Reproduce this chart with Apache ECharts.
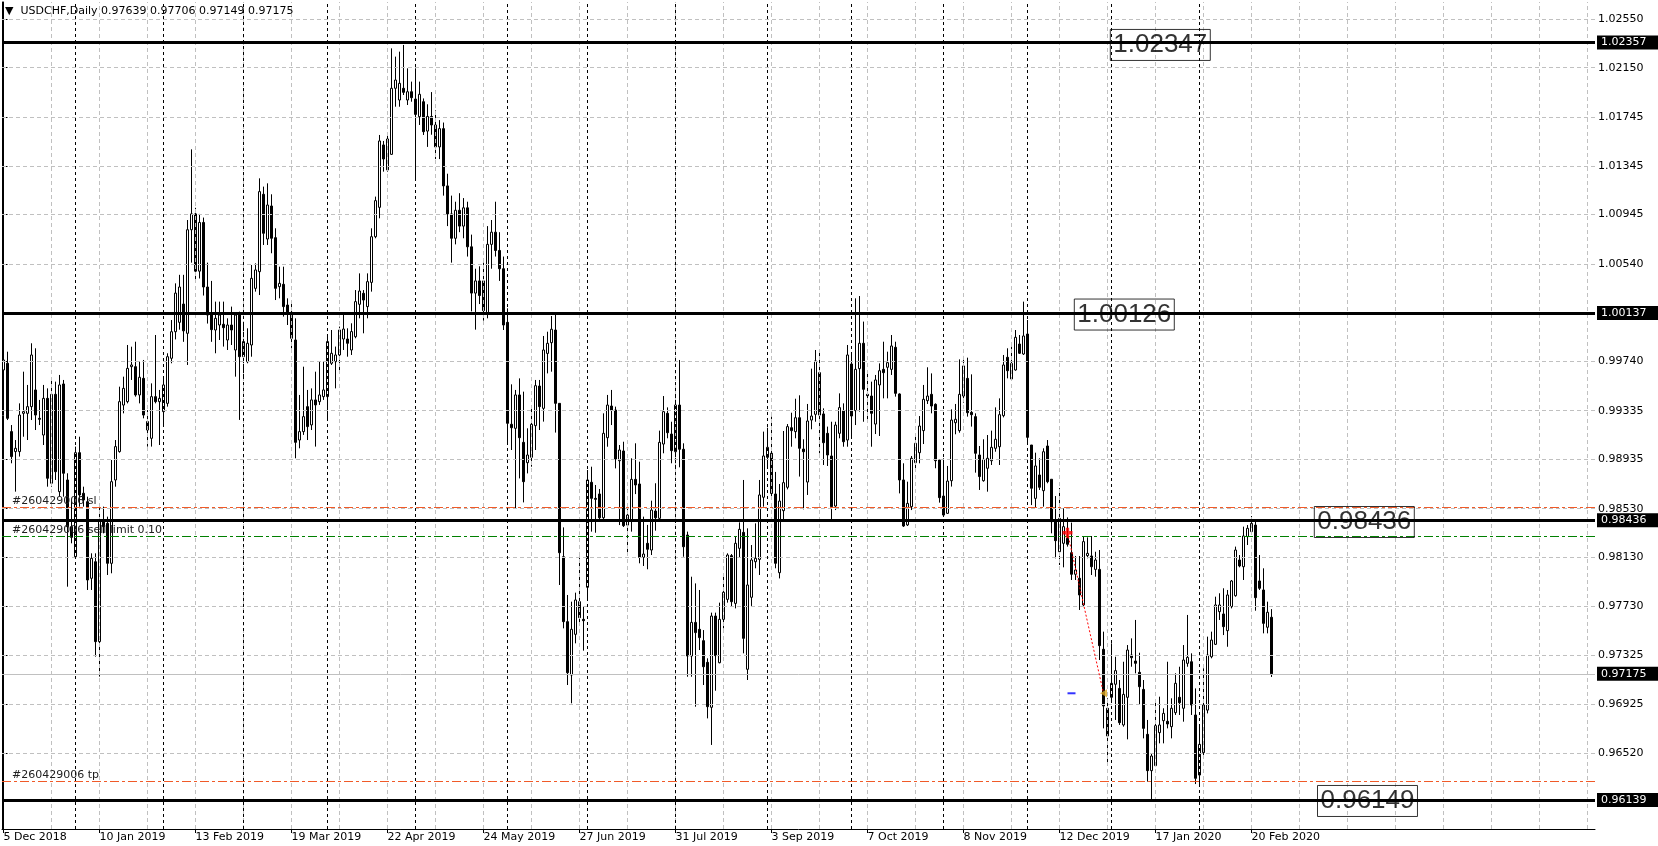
<!DOCTYPE html>
<html><head><meta charset="utf-8">
<script src="https://cdn.jsdelivr.net/npm/echarts@6/dist/echarts.min.js"></script>
<style>html,body{margin:0;padding:0;background:#fff}#c{width:1658px;height:846px}</style>
</head><body><div id="c"></div><script>
const symbolName = 'USDCHF,Daily';
const dateTicks = ['5 Dec 2018','10 Jan 2019','13 Feb 2019','19 Mar 2019','22 Apr 2019','24 May 2019','27 Jun 2019','31 Jul 2019','3 Sep 2019','7 Oct 2019','8 Nov 2019','12 Dec 2019','17 Jan 2020','20 Feb 2020'];
const barsPerDateTick = 24;
const priceTicks = [1.02550,1.02150,1.01745,1.01345,1.00945,1.00540,0.99740,0.99335,0.98935,0.98530,0.98130,0.97730,0.97325,0.96925,0.96520];
const monthStartBars = [18,40,60,81,103,126,146,168,191,212,235,256,277,299];
const levelPrices = [1.02357,1.00137,0.98436,0.96139];
const levelTexts = ['1.02347','1.00126','0.98436','0.96149'];
const bidPrice = 0.97175;
const orderLabels = ['#260429006 sl','#260429006 sell limit 0.10','#260429006 tp'];
const orderPrices = [0.98540,0.98303,0.96290];
const tradeBars = [266,275];
const tradePrices = [0.98333,0.97015];

const open = [
0.99669,0.99724,0.99163,0.98999,0.98999,0.99313,0.99313,0.99368,0.99505,0.99272,
0.99135,0.99436,0.98739,0.99469,0.98670,0.99554,0.98766,0.98383,0.98136,0.98990,
0.98657,0.98588,0.97959,0.98095,0.97439,0.98438,0.98410,0.98082,0.98766,0.98999,
0.99381,0.99409,0.99696,0.99696,0.99464,0.99600,0.99245,0.99108,0.99450,0.99409,
0.99327,0.99395,0.99765,0.99983,1.00060,1.00210,0.99970,1.00820,1.00950,1.00480,
1.00880,1.00350,1.00120,0.99997,1.00038,1.00044,0.99915,1.00038,0.99833,1.00120,
0.99778,0.99737,0.99874,1.00339,1.00476,1.01111,1.00744,1.01015,1.00755,1.00353,
1.00372,1.00202,1.00142,0.99915,0.99094,0.99163,0.99368,0.99218,0.99423,0.99409,
0.99450,0.99450,0.99724,0.99737,0.99792,0.99923,0.99923,0.99833,0.99942,1.00208,
1.00298,1.00189,1.00388,1.00763,1.01004,1.01516,1.01311,1.01439,1.01981,1.01885,
1.01981,1.01885,1.01953,1.01893,1.01748,1.01871,1.01630,1.01750,1.01680,1.01500,
1.01650,1.01180,1.00950,1.00750,1.00980,1.00850,1.01000,1.00680,1.00300,1.00400,
1.00400,1.00134,1.00700,1.00800,1.00650,1.00500,1.00060,0.99223,0.99190,0.99464,
0.99075,0.98908,0.98952,0.99212,0.99537,0.99354,0.99805,0.99893,0.99997,0.99395,
0.98136,0.97603,0.97165,0.97499,0.97767,0.97622,0.97885,0.98747,0.98615,0.98651,
0.98456,0.99113,0.99373,0.99340,0.98924,0.99004,0.98396,0.98437,0.98771,0.98733,
0.98131,0.98246,0.98191,0.98511,0.98451,0.99061,0.99313,0.99143,0.98998,0.99381,
0.99018,0.98314,0.97321,0.97597,0.97540,0.97447,0.97269,0.96900,0.97649,0.97266,
0.97622,0.97786,0.98145,0.97753,0.98205,0.98336,0.97212,0.97803,0.98095,0.98114,
0.98624,0.98952,0.98985,0.98651,0.98005,0.98514,0.98706,0.99195,0.99163,0.99277,
0.99020,0.98749,0.99258,0.99305,0.99647,0.99308,0.99149,0.98963,0.98552,0.99149,
0.99333,0.99094,0.99718,0.99335,0.99680,0.99888,0.99469,0.99455,0.99225,0.99546,
0.99674,0.99691,0.99674,0.99855,0.99472,0.98766,0.98397,0.98547,0.98908,0.98990,
0.99171,0.99417,0.99469,0.99387,0.98930,0.98634,0.98492,0.98760,0.99236,0.99171,
0.99455,0.99600,0.99321,0.99286,0.98971,0.98760,0.98862,0.98924,0.99026,0.99039,
0.99294,0.99773,0.99595,0.99669,0.99882,0.99800,0.99964,0.99053,0.98615,0.98807,
0.98678,0.99045,0.98772,0.98424,0.98177,0.98246,0.98287,0.98169,0.97992,0.97959,
0.97740,0.98145,0.98142,0.98032,0.98032,0.97376,0.96892,0.96982,0.97089,0.97055,
0.96755,0.96982,0.97329,0.97280,0.97187,0.97047,0.96678,0.96380,0.96421,0.96692,
0.96790,0.96785,0.96741,0.96856,0.96982,0.96892,0.97261,0.97274,0.96837,0.96344,
0.96528,0.96877,0.97315,0.97417,0.97685,0.97666,0.97529,0.97726,0.97816,0.98109,
0.98054,0.98301,0.98342,0.98396,0.97937,0.97863,0.97557,0.97639];
const high = [
1.00079,0.99819,0.99217,0.99094,0.99395,0.99655,0.99546,0.99888,0.99847,0.99423,
0.99546,0.99518,0.99587,0.99573,0.99628,0.99587,0.98821,0.98602,0.99040,0.99121,
0.98711,0.98629,0.98164,0.98164,0.98547,0.98547,0.98465,0.98930,0.99094,0.99532,
0.99614,0.99874,0.99860,0.99901,0.99737,0.99751,0.99340,0.99559,0.99956,0.99505,
0.99614,0.99806,1.00079,1.00380,1.00450,1.00450,1.00900,1.01480,1.01000,1.00950,
1.00920,1.00550,1.00400,1.00230,1.00230,1.00230,1.00093,1.00189,1.00134,1.00148,
1.00038,1.00011,1.00531,1.00544,1.01242,1.01174,1.01201,1.01111,1.00832,1.00517,
1.00517,1.00257,1.00230,1.00093,0.99464,0.99696,0.99505,0.99518,0.99655,0.99737,
0.99737,0.99942,0.99997,0.99861,1.00025,1.00120,1.00011,1.00052,1.00325,1.00462,
1.00325,1.00462,1.00832,1.01092,1.01598,1.01549,1.01598,1.02309,1.02241,1.02282,
1.02337,1.02145,1.02036,1.02145,1.02036,1.01898,1.01850,1.01950,1.01800,1.01720,
1.01700,1.01280,1.01100,1.01050,1.01120,1.01080,1.01050,1.00780,1.00500,1.00520,
1.00550,1.00850,1.00900,1.01050,1.00800,1.00600,1.00175,0.99551,0.99505,0.99600,
0.99491,0.99190,0.99354,0.99587,0.99587,0.99948,0.99983,1.00112,1.00142,0.99395,
0.98377,0.97822,0.97767,0.97841,0.98136,0.97726,0.98848,0.98875,0.98725,0.98692,
0.99313,0.99464,0.99505,0.99368,0.99053,0.99080,0.98547,0.98944,0.99067,0.98916,
0.98465,0.98397,0.98596,0.98739,0.99171,0.99455,0.99362,0.99244,0.99491,0.99751,
0.99067,0.98342,0.97972,0.97917,0.97863,0.97534,0.97302,0.97677,0.97677,0.97759,
0.98000,0.98164,0.98158,0.98301,0.98418,0.98766,0.98369,0.98232,0.98410,0.98766,
0.99163,0.99195,0.99286,0.98832,0.98733,0.99168,0.99225,0.99318,0.99433,0.99461,
0.99100,0.99390,0.99680,0.99833,0.99833,0.99354,0.99204,0.99244,0.99244,0.99477,
0.99395,0.99874,0.99792,1.00257,1.00276,1.00066,0.99647,0.99573,0.99628,0.99723,
0.99901,0.99819,0.99956,0.99901,0.99477,0.98903,0.98752,0.98963,0.99149,0.99291,
0.99546,0.99691,0.99641,0.99395,0.98930,0.98944,0.98881,0.99346,0.99390,0.99756,
0.99784,0.99770,0.99633,0.99313,0.99045,0.99100,0.99135,0.99171,0.99362,0.99436,
0.99792,0.99847,0.99860,0.99997,0.99956,1.00230,1.00079,0.99053,0.98990,0.98944,
0.99026,0.99094,0.98772,0.98634,0.98700,0.98533,0.98459,0.98416,0.98142,0.98142,
0.98306,0.98295,0.98306,0.98177,0.98191,0.97521,0.96974,0.97425,0.97315,0.97124,
0.97274,0.97411,0.97466,0.97617,0.97348,0.97124,0.96796,0.96522,0.96965,0.96987,
0.96892,0.97274,0.96974,0.97179,0.97233,0.97411,0.97658,0.97343,0.97055,0.96755,
0.97220,0.97480,0.97521,0.97808,0.97836,0.97877,0.97863,0.97945,0.98219,0.98150,
0.98383,0.98396,0.98470,0.98424,0.98150,0.98041,0.97767,0.97706];
const low = [
0.99655,0.99258,0.98903,0.98670,0.98958,0.99121,0.99094,0.99258,0.99176,0.99217,
0.99053,0.98711,0.98711,0.98766,0.98629,0.98629,0.97890,0.98246,0.98123,0.98547,
0.98547,0.97863,0.97863,0.97316,0.97152,0.98328,0.97986,0.98000,0.98711,0.98990,
0.99313,0.99395,0.99587,0.99450,0.99395,0.99272,0.99040,0.99040,0.99395,0.99053,
0.99217,0.99368,0.99724,0.99920,1.00000,0.99900,0.99710,1.00550,1.00400,1.00420,
1.00280,1.00050,0.99900,0.99806,0.99915,0.99861,0.99833,0.99874,0.99614,0.99259,
0.99614,0.99724,0.99778,1.00312,1.00284,1.00695,1.00695,1.00627,1.00243,1.00257,
1.00107,1.00038,0.99847,0.98944,0.99026,0.99136,0.99094,0.99176,0.99040,0.99382,
0.99423,0.99272,0.99710,0.99518,0.99641,0.99833,0.99778,0.99792,0.99929,1.00093,
0.99970,1.00093,1.00312,1.00750,1.00914,1.01297,1.01297,1.01434,1.01830,1.01830,
1.01926,1.01844,1.01871,1.01242,1.01680,1.01598,1.01500,1.01600,1.01400,1.01400,
1.01100,1.00850,1.00550,1.00700,1.00800,1.00750,1.00600,1.00150,1.00000,1.00210,
1.00074,1.00093,1.00500,1.00600,1.00400,0.99997,0.99067,0.99012,0.98533,0.98779,
0.98582,0.98820,0.98875,0.99012,0.99176,0.99245,0.99641,0.99655,0.99155,0.97904,
0.97548,0.97083,0.96933,0.97425,0.97576,0.97365,0.97781,0.98342,0.98333,0.98437,
0.98437,0.99039,0.99217,0.98861,0.98396,0.98380,0.98164,0.98342,0.98650,0.98082,
0.98060,0.98033,0.98150,0.98350,0.98432,0.98985,0.99108,0.98903,0.98822,0.98870,
0.98136,0.97151,0.97151,0.96905,0.97370,0.97083,0.96809,0.96591,0.97036,0.97261,
0.97548,0.97759,0.97726,0.97712,0.98131,0.97343,0.97124,0.97732,0.98041,0.97986,
0.98547,0.98875,0.98615,0.98041,0.97958,0.98424,0.98689,0.99039,0.99108,0.98794,
0.98525,0.98643,0.99182,0.99244,0.98985,0.98889,0.98881,0.98437,0.98519,0.99108,
0.99039,0.99039,0.99108,0.99217,0.99327,0.99244,0.99258,0.99039,0.99143,0.99127,
0.99436,0.99436,0.99628,0.99450,0.98656,0.98380,0.98388,0.98519,0.98842,0.98903,
0.99061,0.99390,0.99313,0.98862,0.98580,0.98470,0.98487,0.98712,0.99141,0.99154,
0.99401,0.99286,0.99204,0.98826,0.98684,0.98752,0.98670,0.98889,0.98998,0.98889,
0.99280,0.99600,0.99592,0.99663,0.99800,0.99792,0.99067,0.98560,0.98541,0.98684,
0.98547,0.98739,0.98328,0.98123,0.98068,0.98049,0.98219,0.97945,0.97945,0.97699,
0.97726,0.98123,0.97986,0.97972,0.97288,0.96727,0.96445,0.96946,0.96796,0.96755,
0.96741,0.96637,0.97233,0.97179,0.96927,0.96645,0.96290,0.96125,0.96418,0.96604,
0.96604,0.96727,0.96645,0.96837,0.96837,0.96782,0.97233,0.96837,0.96270,0.96270,
0.96495,0.96850,0.97302,0.97411,0.97617,0.97493,0.97397,0.97712,0.97808,0.98049,
0.97945,0.98232,0.98328,0.97693,0.97863,0.97507,0.97507,0.97149];
const close = [
0.99751,0.99272,0.98958,0.99026,0.99299,0.99327,0.99368,0.99792,0.99299,0.99264,
0.99436,0.98780,0.99469,0.98834,0.99546,0.98821,0.98383,0.98295,0.98990,0.98643,
0.98602,0.97945,0.98123,0.97439,0.98438,0.98383,0.98082,0.98752,0.99040,0.99409,
0.99518,0.99682,0.99710,0.99464,0.99609,0.99299,0.99176,0.99450,0.99409,0.99436,
0.99546,0.99778,0.99983,1.00300,1.00350,0.99990,1.00820,1.00950,1.00480,1.00880,
1.00350,1.00120,1.00000,1.00093,1.00120,1.00016,1.00038,0.99997,1.00120,0.99778,
0.99902,0.99888,1.00421,1.00490,1.01133,1.00791,1.01023,1.00750,1.00339,1.00380,
1.00189,1.00134,0.99929,0.99075,0.99163,0.99286,0.99204,0.99423,0.99382,0.99464,
0.99505,0.99902,0.99806,0.99792,0.99997,1.00005,0.99888,0.99984,1.00230,1.00317,
1.00243,1.00394,1.00763,1.01059,1.01549,1.01401,1.01565,1.01981,1.02049,1.02022,
1.01948,1.01953,1.01904,1.01767,1.01932,1.01625,1.01750,1.01680,1.01500,1.01650,
1.01180,1.00950,1.00750,1.00980,1.00850,1.01000,1.00680,1.00300,1.00400,1.00280,
1.00156,1.00700,1.00800,1.00650,1.00500,1.00038,0.99231,0.99195,0.99464,0.99113,
0.98752,0.98971,0.99223,0.99540,0.99368,0.99833,0.99888,1.00003,0.99395,0.98169,
0.97603,0.97184,0.97540,0.97781,0.97636,0.97611,0.98766,0.98615,0.98607,0.98456,
0.99149,0.99381,0.99340,0.98938,0.99012,0.98391,0.98478,0.98771,0.98725,0.98131,
0.98158,0.98197,0.98519,0.98456,0.99075,0.99327,0.99154,0.99007,0.99381,0.99018,
0.98218,0.97321,0.97597,0.97513,0.97472,0.97233,0.96905,0.97649,0.97324,0.97622,
0.97844,0.98150,0.97767,0.98246,0.98361,0.97466,0.97904,0.98109,0.98123,0.98643,
0.98963,0.99034,0.98656,0.98082,0.98593,0.98744,0.99204,0.99171,0.99277,0.99026,
0.98998,0.99250,0.99291,0.99743,0.99299,0.99072,0.98971,0.98547,0.99217,0.99360,
0.99080,0.99792,0.99291,0.99674,0.99888,0.99510,0.99458,0.99313,0.99587,0.99663,
0.99647,0.99729,0.99866,0.99477,0.98766,0.98388,0.98574,0.98944,0.99067,0.99209,
0.99428,0.99455,0.99373,0.98924,0.98621,0.98478,0.98757,0.99258,0.99264,0.99469,
0.99702,0.99318,0.99302,0.98985,0.98794,0.98935,0.98944,0.99034,0.99100,0.99302,
0.99710,0.99663,0.99723,0.99937,0.99806,0.99948,0.99116,0.98698,0.98881,0.98706,
0.98998,0.98752,0.98424,0.98268,0.98451,0.98383,0.98238,0.97992,0.98027,0.97822,
0.98260,0.98164,0.98054,0.98109,0.97406,0.96911,0.96665,0.97097,0.97201,0.96774,
0.97006,0.97370,0.97307,0.97261,0.97069,0.96727,0.96380,0.96500,0.96749,0.96755,
0.96850,0.96763,0.96892,0.97097,0.96938,0.97288,0.97310,0.96919,0.96317,0.96596,
0.96919,0.97329,0.97452,0.97740,0.97740,0.97562,0.97822,0.97937,0.98191,0.98060,
0.98306,0.98369,0.98410,0.97800,0.97877,0.97589,0.97680,0.97175];

// ---------- layout / styles ----------
const FONT = 'DejaVu Sans';
const X_MIN = -0.375, X_MAX = 397.875;
const Y_MIN = 0.95901, Y_MAX = 1.026895;
const levelTextAnchors = [[276.7,1.02337],[267.7,1.00124],[327.7,0.98421],[328.5,0.96131]];

const last = open.length - 1;
const fmt = v => v.toFixed(5);
const header = '\u25BC  ' + symbolName + ' ' + [open[last], high[last], low[last], close[last]].map(fmt).join(' ');

const candles = open.map((o, i) => [i, o, close[i], low[i], high[i]]);
const dateTickBars = dateTicks.map((_, k) => k * barsPerDateTick);

const gridLines = [];
for (let i = 12; i <= 396; i += 12) gridLines.push({ xAxis: i });
priceTicks.forEach(v => gridLines.push({ yAxis: v }));
const sepLines = monthStartBars.map(i => ({ xAxis: i }));

const levelLineData = levelPrices.map(v => ({ yAxis: v, label: { formatter: fmt(v) } }));
const bidLineData = [{ yAxis: bidPrice, label: { formatter: fmt(bidPrice) } }];

const axisLabelStyle = { show: true, position: 'end', distance: 2, backgroundColor: '#000', color: '#fff',
  fontFamily: FONT, fontSize: 11, padding: [2, 12, 1, 4], align: 'left' };

const orderColors = ['#f05a28', '#008000', '#f05a28'];
const orderLineData = orderPrices.map((v, k) => ({
  yAxis: v,
  lineStyle: { color: orderColors[k], type: [9, 3, 3, 3], width: 1 },
  label: { show: true, position: 'insideStartTop', formatter: orderLabels[k], distance: [10, 1],
    color: '#202020', fontFamily: FONT, fontSize: 11 }
}));

const ML = { silent: true, symbol: 'none', animation: false, precision: 6 };

const option = {
  animation: false,
  backgroundColor: '#fff',
  title: { text: header, left: 5, top: 6, padding: 0,
    textStyle: { fontSize: 11, fontWeight: 'normal', fontFamily: FONT, color: '#000' } },
  grid: { left: 2, right: 63, top: 2, bottom: 17, containLabel: false },
  xAxis: {
    type: 'value', min: X_MIN, max: X_MAX,
    axisLine: { show: true, lineStyle: { color: '#000', width: 1 } },
    axisTick: { show: true, customValues: dateTickBars, length: 4, lineStyle: { color: '#000' } },
    axisLabel: { show: true, customValues: dateTickBars, formatter: v => dateTicks[Math.round(v / barsPerDateTick)] || '',
      align: 'left', margin: 3, color: '#000', fontFamily: FONT, fontSize: 11 },
    splitLine: { show: false }
  },
  yAxis: [{
    type: 'value', position: 'right', min: Y_MIN, max: Y_MAX, scale: true,
    axisLine: { show: true, lineStyle: { color: '#000', width: 1 } },
    axisTick: { show: true, customValues: priceTicks, length: 4, lineStyle: { color: '#000' } },
    axisLabel: { show: true, customValues: priceTicks, formatter: v => fmt(v), align: 'left', margin: 3,
      color: '#000', fontFamily: FONT, fontSize: 11 },
    splitLine: { show: false }
  }, {
    type: 'value', position: 'left', min: Y_MIN, max: Y_MAX, scale: true,
    axisLine: { show: true, onZero: false, lineStyle: { color: '#000', width: 1 } },
    axisTick: { show: false }, axisLabel: { show: false }, splitLine: { show: false }
  }],
  series: [
    { type: 'scatter', data: [], z: 1, silent: true,
      markLine: Object.assign({}, ML, { label: { show: false },
        lineStyle: { color: '#c0c0c0', type: [4, 3], width: 1 }, data: gridLines }) },
    { type: 'scatter', data: [], z: 1, silent: true,
      markLine: Object.assign({}, ML, { label: { show: false },
        lineStyle: { color: '#000', type: [3, 3], width: 1 }, data: sepLines }) },
    { type: 'candlestick', data: candles, encode: { x: 0, y: [1, 2, 3, 4] }, barWidth: 2, z: 3, silent: true,
      itemStyle: { color: '#fff', color0: '#000', borderColor: '#000', borderColor0: '#000', borderWidth: 1 } },
    { type: 'scatter', data: [], z: 4, silent: true,
      markLine: Object.assign({}, ML, { data: orderLineData }) },
    { type: 'scatter', data: [], z: 4, silent: true,
      markLine: Object.assign({}, ML, {
        lineStyle: { color: '#c0c0c0', type: 'solid', width: 1 }, label: axisLabelStyle, data: bidLineData }) },
    { type: 'scatter', data: [], z: 5, silent: true,
      markLine: Object.assign({}, ML, {
        lineStyle: { color: '#000', type: 'solid', width: 3 }, label: axisLabelStyle, data: levelLineData }) },
    { type: 'scatter', z: 6, silent: true, symbolSize: 0,
      data: levelTextAnchors.map((a, k) => ({ value: a, name: levelTexts[k] })),
      label: { show: true, position: 'right', distance: 0, formatter: p => p.name,
        fontFamily: 'Liberation Sans', fontSize: 26, lineHeight: 30, color: '#000',
        borderColor: '#000', borderWidth: 1, padding: [1, 3, 0, 3] } },
    { type: 'line', z: 7, silent: true, symbol: 'none',
      data: tradeBars.map((b, k) => [b, tradePrices[k]]),
      lineStyle: { color: '#ff0000', type: [2, 2], width: 1 } },
    { type: 'scatter', z: 8, silent: true, data: [[tradeBars[0], tradePrices[0]]],
      symbol: 'path://M3,0H6V3H9V6H6V9H3V6H0V3H3Z', symbolSize: 10, itemStyle: { color: '#ff0000' } },
    { type: 'scatter', z: 8, silent: true, data: [[tradeBars[1], tradePrices[1]]],
      symbol: 'triangle', symbolRotate: 90, symbolSize: [8, 7], itemStyle: { color: '#daa520' } },
    { type: 'scatter', z: 8, silent: true, data: [[tradeBars[0] + 1, tradePrices[1]]],
      symbol: 'rect', symbolSize: [8, 2], itemStyle: { color: '#0000ff' } }
  ]
};
const chart = echarts.init(document.getElementById('c'));
chart.setOption(option);
</script></body></html>
